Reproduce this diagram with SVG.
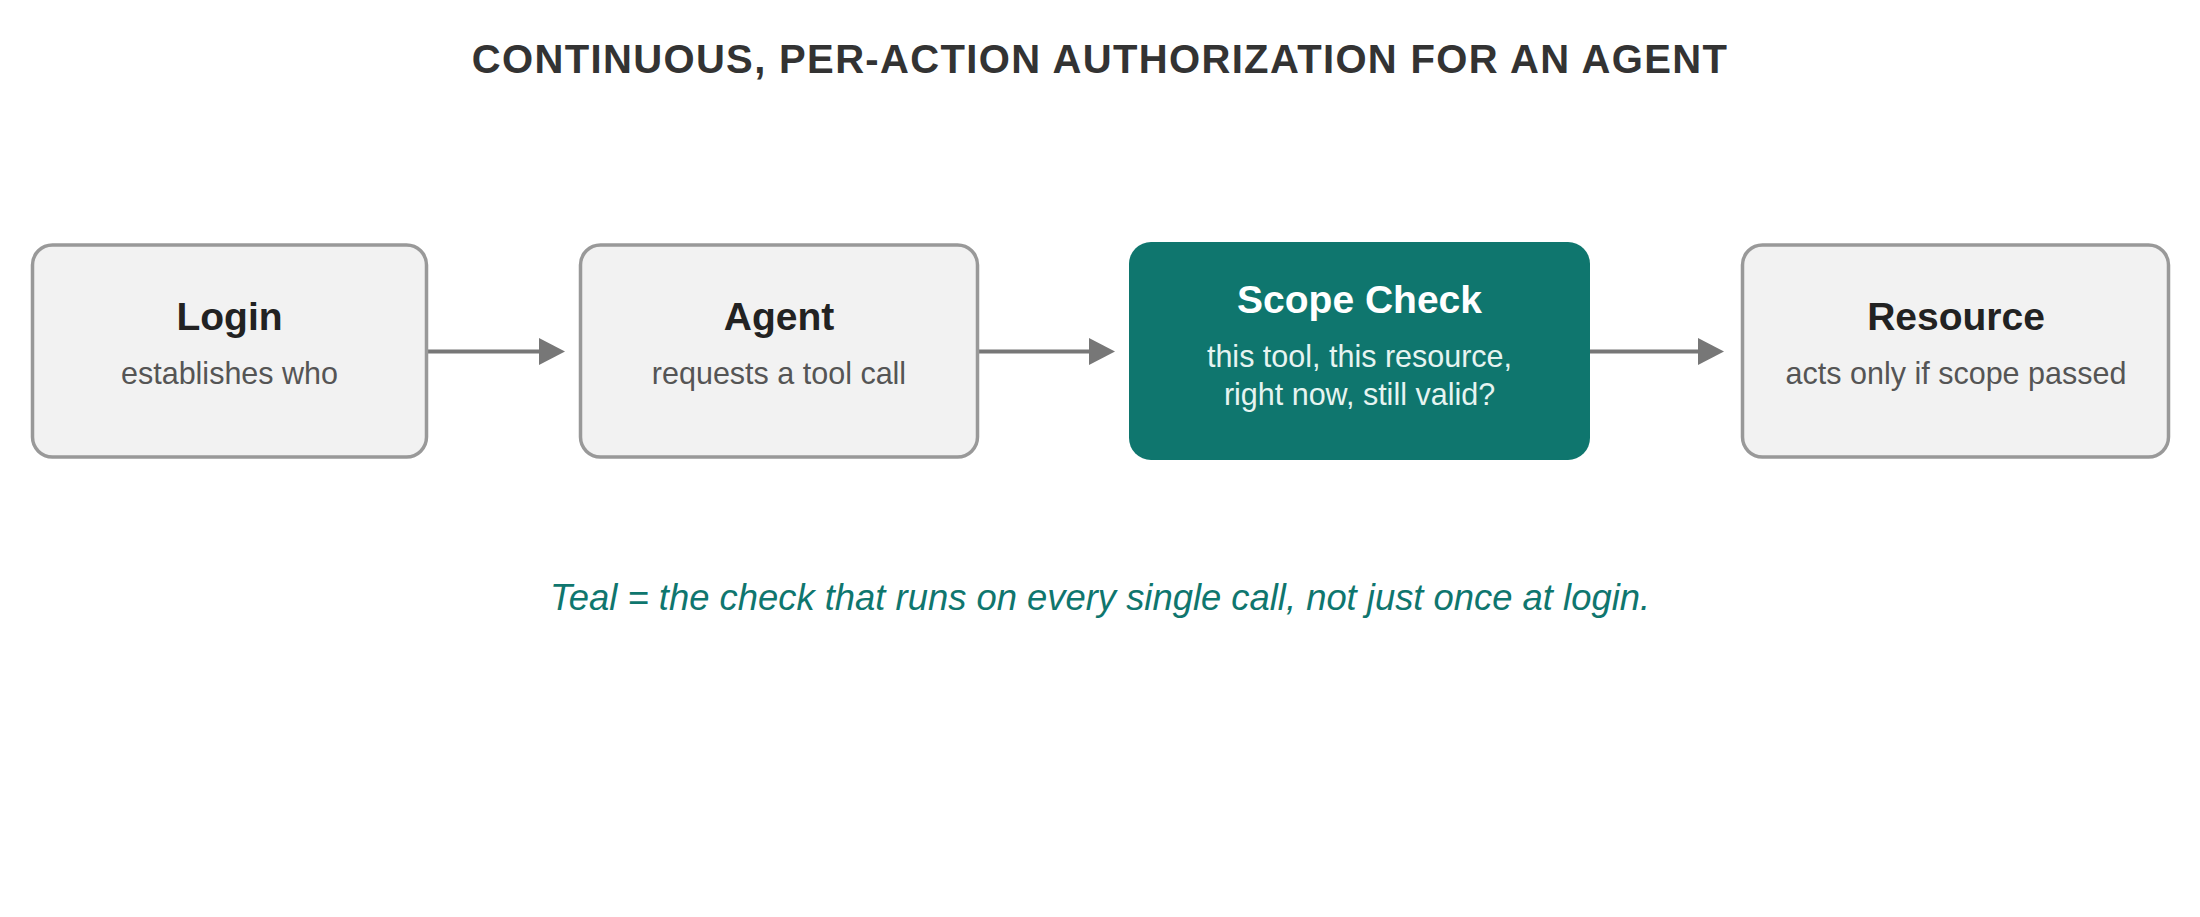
<svg xmlns="http://www.w3.org/2000/svg" width="2200" height="917" viewBox="0 0 2200 917">
  <style>
    .box { fill: #f2f2f2; stroke: #999999; stroke-width: 3.5; }
    .hot { fill: #0f766e; }
    .ttl { font-family: "Liberation Sans", Arial, sans-serif; font-weight: bold; font-size: 39px; fill: #222222; text-anchor: middle; }
    .sub { font-family: "Liberation Sans", Arial, sans-serif; font-size: 30.5px; fill: #555555; text-anchor: middle; }
    .ttl-w { fill: #ffffff; }
    .sub-w { fill: #e6f4f1; }
    .conn { stroke: #777777; stroke-width: 4; fill: none; marker-end: url(#arrow); }
    .head { font-family: "Liberation Sans", Arial, sans-serif; font-weight: bold; font-size: 40px; letter-spacing: 1.35px; fill: #333333; text-anchor: middle; }
    .cap { font-family: "Liberation Sans", Arial, sans-serif; font-style: italic; font-size: 36.4px; fill: #0f766e; text-anchor: middle; }
  </style>
  <defs>
    <marker id="arrow" markerUnits="userSpaceOnUse" markerWidth="26" markerHeight="27" refX="6" refY="13.5" orient="auto">
      <path d="M0,0 L26,13.5 L0,27 Z" fill="#777777"/>
    </marker>
  </defs>
  <rect width="2200" height="917" fill="#ffffff"/>
  <text class="head" x="1100" y="73">CONTINUOUS, PER-ACTION AUTHORIZATION FOR AN AGENT</text>

  <g id="connectors">
    <line class="conn" x1="428" y1="351.5" x2="545" y2="351.5"/>
    <line class="conn" x1="979" y1="351.5" x2="1095" y2="351.5"/>
    <line class="conn" x1="1590" y1="351.5" x2="1704" y2="351.5"/>
  </g>

  <g id="login">
    <rect class="box" x="32.5" y="245" width="394" height="212" rx="20"/>
    <text class="ttl" x="229.5" y="330">Login</text>
    <text class="sub" x="229.5" y="384">establishes who</text>
  </g>
  <g id="agent">
    <rect class="box" x="580.5" y="245" width="397" height="212" rx="20"/>
    <text class="ttl" x="779" y="330">Agent</text>
    <text class="sub" x="779" y="384">requests a tool call</text>
  </g>
  <g id="scope-check">
    <rect class="hot" x="1129" y="242" width="461" height="218" rx="22"/>
    <text class="ttl ttl-w" x="1359.5" y="313">Scope Check</text>
    <text class="sub sub-w" x="1359.5" y="367">this tool, this resource,</text>
    <text class="sub sub-w" x="1359.5" y="405">right now, still valid?</text>
  </g>
  <g id="resource">
    <rect class="box" x="1742.5" y="245" width="426" height="212" rx="20"/>
    <text class="ttl" x="1956" y="330">Resource</text>
    <text class="sub" x="1956" y="384">acts only if scope passed</text>
  </g>

  <text class="cap" x="1100" y="610">Teal = the check that runs on every single call, not just once at login.</text>
</svg>
